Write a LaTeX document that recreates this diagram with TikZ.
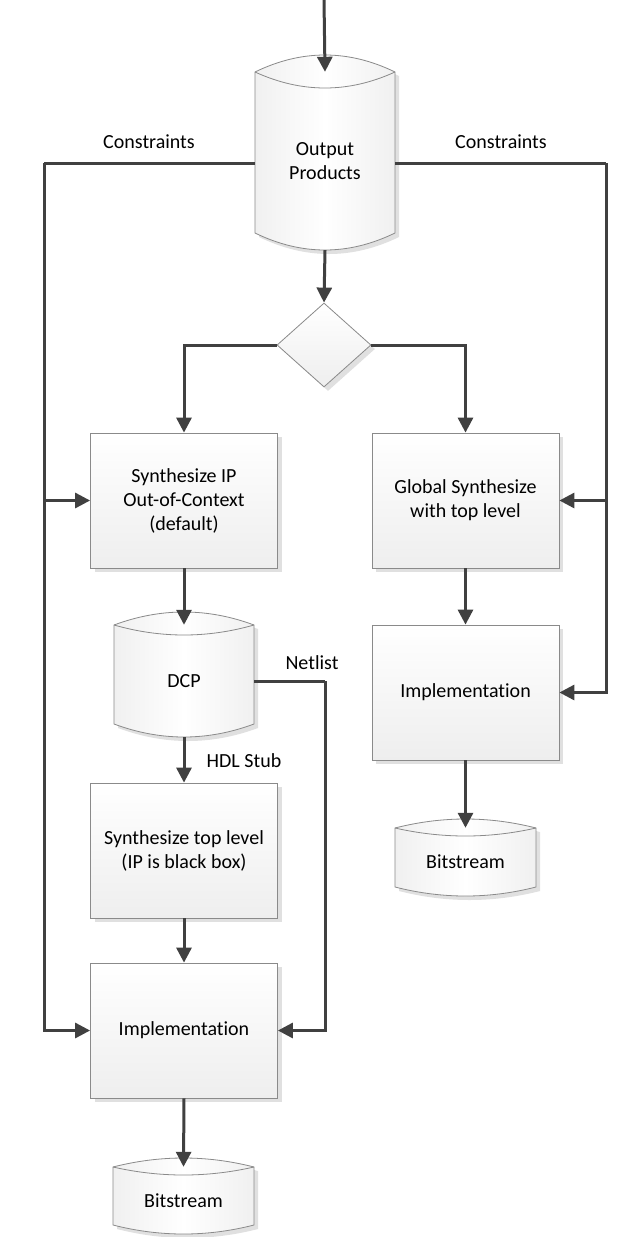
\documentclass[tikz,border=0pt]{standalone}
\usepackage{fontspec}
\setmainfont{Carlito}[Ligatures=NoCommon]
\usetikzlibrary{arrows.meta,shapes.geometric,calc}
\definecolor{linec}{HTML}{404040}
\definecolor{borderc}{HTML}{8A8A8A}
\definecolor{shadowc}{HTML}{E0E0E0}
\definecolor{fillb}{HTML}{EEEEEE}
\definecolor{cylside}{HTML}{F0F0F0}
\tikzset{
  conn/.style={draw=linec, line width=3pt, -{Triangle[length=15pt,width=15pt]}},
  plainconn/.style={draw=linec, line width=3pt},
  shad/.style={preaction={fill=shadowc, transform canvas={shift={(4pt,-4pt)}}}},
  procbox/.style={rectangle, draw=borderc, line width=0.8pt, top color=white, bottom color=fillb,
    shad, minimum width=187pt, minimum height=135pt, inner sep=0pt, align=center,
    font=\fontsize{20}{24}\selectfont},
  decbox/.style={diamond, draw=borderc, line width=0.8pt, top color=white, bottom color=fillb,
    shad, minimum width=94pt, minimum height=84pt, inner sep=0pt},
  cylbody/.style={draw=borderc, line width=0.8pt, left color=cylside, right color=cylside, middle color=white, shad},
  cylline/.style={draw=borderc, line width=0.8pt},
  cyltext/.style={rectangle, inner sep=0pt, align=center, font=\fontsize{20}{23.5}\selectfont},
  lbl/.style={inner sep=0pt, font=\fontsize{20}{24}\selectfont}
}
% #1 name, #2 x1, #3 x2, #4 y top corners, #5 y bottom corners, #6 outer sag, #7 inner sag, #8 text
\newcommand\drawcyl[8]{%
  \pgfmathsetmacro\cxa{#2+(#3-#2)/3}%
  \pgfmathsetmacro\cxb{#3-(#3-#2)/3}%
  \pgfmathsetmacro\cyu{#4-4*#6/3}%
  \pgfmathsetmacro\cyd{#4+4*#7/3}%
  \pgfmathsetmacro\cyb{#5+4*#6/3}%
  \pgfmathsetmacro\cmx{(#2+#3)/2}%
  \pgfmathsetmacro\cmy{(#4+#5+#6)/2}%
  \pgfmathsetmacro\cw{#3-#2}%
  \pgfmathsetmacro\chh{#5+#6-#4}%
  \path[cylbody] (#2,#4) .. controls (\cxa,\cyu) and (\cxb,\cyu) .. (#3,#4) -- (#3,#5)
     .. controls (\cxb,\cyb) and (\cxa,\cyb) .. (#2,#5) -- cycle;
  \draw[cylline] (#2,#4) .. controls (\cxa,\cyd) and (\cxb,\cyd) .. (#3,#4);
  \node[cyltext, minimum width=\cw pt, minimum height=\chh pt] (#1) at (\cmx,\cmy) {#8};
}
\begin{document}
\begin{tikzpicture}[x=1pt,y=-1pt]
\useasboundingbox[fill=white] (0,0) rectangle (617,1237);

% shapes
\drawcyl{op}{255}{395}{72}{233}{17}{16}{Output\\Products}
\node[decbox] (dia) at (324,345) {};
\node[procbox] (s1) at (184,500.5) {Synthesize IP\\Out-of-Context\\(default)};
\node[procbox] (g1) at (465.5,500.5) {Global Synthesize\\with top level};
\drawcyl{dcp}{114}{254}{625}{724}{13}{10}{DCP}
\node[procbox] (im2) at (465.5,692.5) {Implementation};
\node[procbox] (s2) at (184,850.5) {Synthesize top level\\(IP is black box)};
\drawcyl{bs2}{395}{536}{828}{887}{9}{8}{Bitstream}
\node[procbox] (im1) at (184,1030.5) {Implementation};
\drawcyl{bs1}{113}{254}{1167}{1225}{9}{8}{Bitstream}

% labels
\node[lbl] (lc) at (149,142) {Constraints};
\node[lbl] (rc) at (501,142) {Constraints};
\node[lbl] (nl) at (312,663) {Netlist};
\node[lbl] (hdl) at (244,761) {HDL Stub};

% helper coordinates
\coordinate (top) at (324,0);
\coordinate (cl) at (44,163);
\coordinate (cr) at (606,163);
\coordinate (nc) at (325,681);

% connectors
\draw[conn] (top) -- (op.north);
\draw[conn] (op.south) -- (dia.north);
\draw[conn] (dia.west) -| (s1.north);
\draw[conn] (dia.east) -| (g1.north);
\draw[plainconn] (op.west |- cl) -- (cl);
\draw[conn] (cl) |- (im1.west);
\draw[conn] (cl |- s1.west) -- (s1.west);
\draw[plainconn] (op.east |- cr) -- (cr);
\draw[conn] (cr) |- (im2.east);
\draw[conn] (cr |- g1.east) -- (g1.east);
\draw[conn] (s1.south) -- (dcp.north);
\draw[conn] (dcp.south) -- (s2.north);
\draw[plainconn] (dcp.east) -- (nc);
\draw[conn] (nc) |- (im1.east);
\draw[conn] (s2.south) -- (im1.north);
\draw[conn] (im1.south) -- (bs1.north);
\draw[conn] (g1.south) -- (im2.north);
\draw[conn] (im2.south) -- (bs2.north);
\end{tikzpicture}
\end{document}
